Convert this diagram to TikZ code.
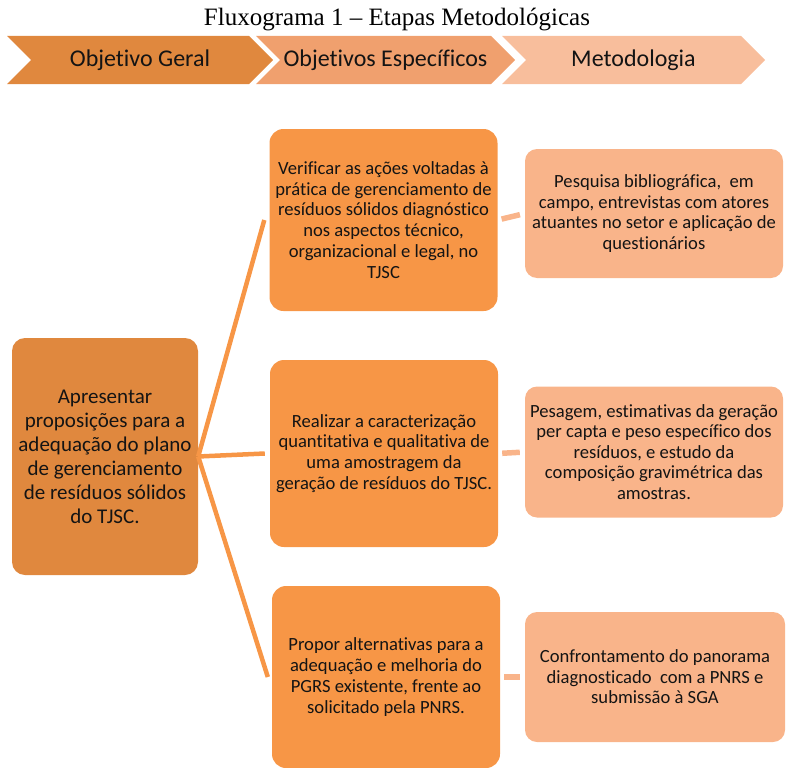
\documentclass[tikz,border=0pt]{standalone}
\usepackage{fontspec}
\setmainfont[Ligatures=NoCommon]{Carlito}
\newfontfamily\titlefont{Liberation Serif}
\usetikzlibrary{shapes.symbols, positioning}
\definecolor{FlowGeral}{HTML}{E0883E}
\definecolor{FlowEspec}{HTML}{F0A06E}
\definecolor{FlowMetod}{HTML}{F8BE9C}
\definecolor{FlowOrange}{HTML}{F79646}
\definecolor{FlowSalmon}{HTML}{F9B48A}
\definecolor{FlowText}{HTML}{141414}
\tikzset{
    chevron/.style={
        signal,
        signal to=east,
        signal from=west,
        fill=#1,
        draw=none,
        minimum height=48pt,
        inner sep=0pt,
        text=FlowText,
        font=\fontsize{24}{28}\selectfont
    },
    chevron/.default=FlowGeral,
    geralbox/.style={
        rectangle,
        rounded corners=13pt,
        fill=FlowGeral,
        minimum width=186pt,
        minimum height=237pt,
        text=FlowText,
        font=\fontsize{21}{24}\selectfont,
        align=center
    },
    especbox/.style={
        rectangle,
        rounded corners=14pt,
        fill=FlowOrange,
        minimum width=228pt,
        text=FlowText,
        font=\fontsize{18.6}{20.8}\selectfont,
        align=center
    },
    metodbox/.style={
        rectangle,
        rounded corners=12pt,
        fill=FlowSalmon,
        minimum width=258pt,
        minimum height=130pt,
        text=FlowText,
        font=\fontsize{18.6}{20.6}\selectfont,
        align=center
    },
    link/.style={
        draw=FlowOrange,
        line width=4.5pt
    },
    metodlink/.style={
        draw=FlowSalmon,
        line width=5.5pt,
        shorten <=4pt,
        shorten >=5pt
    }
}

\begin{document}
\begin{tikzpicture}[x=1pt, y=-1pt]
        \useasboundingbox (0,0) rectangle (787,768);

        % Title
        \node[font=\titlefont\fontsize{25}{27}\selectfont] (title) at (397,20) {Fluxograma 1 – Etapas Metodológicas};

        % Header chevrons
        \node[chevron=FlowGeral, minimum width=266pt] (hgeral) at (140,60) {Objetivo Geral};
        \node[chevron=FlowEspec, minimum width=259pt] (hespec) at (385.5,60) {Objetivos Específicos};
        \node[chevron=FlowMetod, minimum width=263pt] (hmetod) at (633.5,60) {Metodologia};

        % General objective
        \node[geralbox] (geral) at (105,456.5) {Apresentar\\proposições para a\\adequação do plano\\de gerenciamento\\de resíduos sólidos\\do TJSC.};

        % Specific objectives
        \node[especbox, minimum height=182pt] (espec1) at (383.5,220) {Verificar as ações voltadas à\\prática de gerenciamento de\\resíduos sólidos diagnóstico\\nos aspectos técnico,\\organizacional e legal, no\\TJSC};
        \node[especbox, minimum height=187pt] (espec2) at (384,453.5) {Realizar a caracterização\\quantitativa e qualitativa de\\uma amostragem da\\geração de resíduos do TJSC.};
        \node[especbox, minimum height=182pt] (espec3) at (386,677) {Propor alternativas para a\\adequação e melhoria do\\PGRS existente, frente ao\\solicitado pela PNRS.};

        % Methodology
        \node[metodbox, minimum height=129pt] (metod1) at (654,213.5) {Pesquisa bibliográfica,~ em\\campo, entrevistas com atores\\atuantes no setor e aplicação de\\questionários};
        \node[metodbox, minimum height=131pt] (metod2) at (654,452) {Pesagem, estimativas da geração\\per capta e peso específico dos\\resíduos, e estudo da\\composição gravimétrica das\\amostras.};
        \node[metodbox, minimum width=260pt] (metod3) at (655,677) {Confrontamento do panorama\\diagnosticado~ com a PNRS e\\submissão à SGA};

        % Connectors
        \draw[link] (geral.east) -- ([xshift=-5pt]espec1.west);
        \draw[link] (geral.east) -- ([xshift=-5pt]espec2.west);
        \draw[link] (geral.east) -- ([xshift=-4pt]espec3.west);
        \draw[metodlink] (espec1.east) -- (metod1.west);
        \draw[metodlink] (espec2.east) -- (metod2.west);
        \draw[metodlink] (espec3.east) -- (metod3.west);
    \end{tikzpicture}
\end{document}
